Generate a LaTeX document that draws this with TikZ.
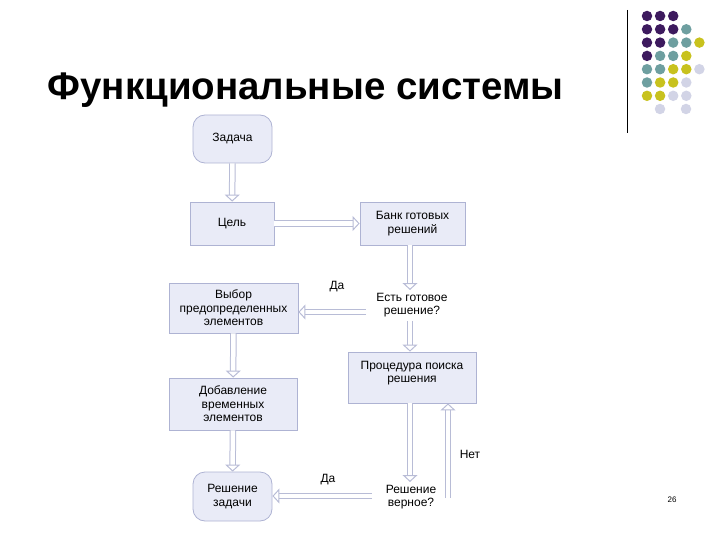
\documentclass[tikz,border=0pt]{standalone}
\usepackage{fontspec}
\setmainfont{Liberation Sans}
\usetikzlibrary{arrows.meta}
\definecolor{bfill}{HTML}{E9EBF7}
\definecolor{bdraw}{HTML}{AEB3D3}
\definecolor{arr}{HTML}{B8BCD6}
\definecolor{cP}{HTML}{3D1A5E}
\definecolor{cT}{HTML}{6E9FA0}
\definecolor{cY}{HTML}{C8C21E}
\definecolor{cL}{HTML}{D2D4E6}
\tikzset{
 box/.style={draw=bdraw,fill=bfill,line width=0.8pt,align=center,font=\fontsize{12}{13.5}\selectfont},
 rbox/.style={box,rounded corners=12pt},
 txt/.style={align=center,font=\fontsize{12}{13.5}\selectfont},
 harr/.style={draw=arr,double=white,double distance=4.5pt,line width=1pt,-{Triangle[open,length=7pt,width=15pt]}},
 dot/.style={circle,inner sep=0pt,minimum size=10.5pt}
}
\begin{document}
\begin{tikzpicture}[x=1pt,y=-1pt]
\useasboundingbox (0,0) rectangle (720,540);
\node[anchor=base west,font=\bfseries\fontsize{38.5}{40}\selectfont] (title) at (44,100) {Функциональные системы};
\draw[line width=1pt] (627,10) -- (627,133);
\foreach \row/\cols [count=\r] in {1/{P,P,P},2/{P,P,P,T},3/{P,P,T,T,Y},4/{P,T,T,Y},5/{T,T,Y,Y,L},6/{T,Y,Y,L},7/{Y,Y,L,L}}{
  \foreach \c [count=\i] in \cols {
    \node[dot,fill=c\c] (d\r\i) at ({647+13.1*(\i-1)},{16+13.3*(\r-1)}) {};
  }
}
\node[dot,fill=cL] (d82) at (660,109) {};
\node[dot,fill=cL] (d84) at (686,109) {};
\node[rbox,minimum width=79pt,minimum height=48pt] (z) at (232.5,139) {Задача};
\node[box,minimum width=84pt,minimum height=43pt] (c) at (232,223.5) {Цель};
\node[box,minimum width=105pt,minimum height=43pt] (b) at (412.5,223.5) {Банк готовых\\решений};
\node[txt] (e) at (412,305) {Есть готовое\\решение?};
\node[box,minimum width=129pt,minimum height=50pt] (v) at (233.5,308) {Выбор\\предопределенных\\элементов};
\node[box,minimum width=128pt,minimum height=51pt] (p) at (412,377.5) {Процедура поиска\\решения\\[-2pt]};
\node[box,minimum width=128pt,minimum height=52pt] (a) at (233,404) {Добавление\\временных\\элементов};
\node[rbox,minimum width=79pt,minimum height=49pt] (r) at (232.5,496.5) {Решение\\задачи};
\node[txt] (q) at (411,497) {Решение\\верное?};
\node[txt] (da1) at (337,287) {Да};
\node[txt] (da2) at (328,480) {Да};
\node[txt] (net) at (470,454) {Нет};
\node[font=\fontsize{8}{10}\selectfont] (pg) at (672,500) {26};
\coordinate (e1) at (366,312);
\coordinate (q1) at (372,496);
\coordinate (et) at (410,290);
\coordinate (qt) at (410,482);
\draw[harr] (b.south -| et) -- (et);
\draw[harr] (z) -- (c);
\draw[harr] (c) -- (b);
\draw[harr] (e1) -- (e1 -| v.east);
\draw[harr] (e.south -| et) -- (p.north -| et);
\draw[harr] (v) -- (a);
\draw[harr] (a) -- (r);
\draw[harr] (p.south -| qt) -- (qt);
\draw[harr] (q1) -- (q1 -| r.east);
\coordinate (nb) at (448,498);
\draw[harr] (nb) -- (nb |- p.south);
\end{tikzpicture}
\end{document}
